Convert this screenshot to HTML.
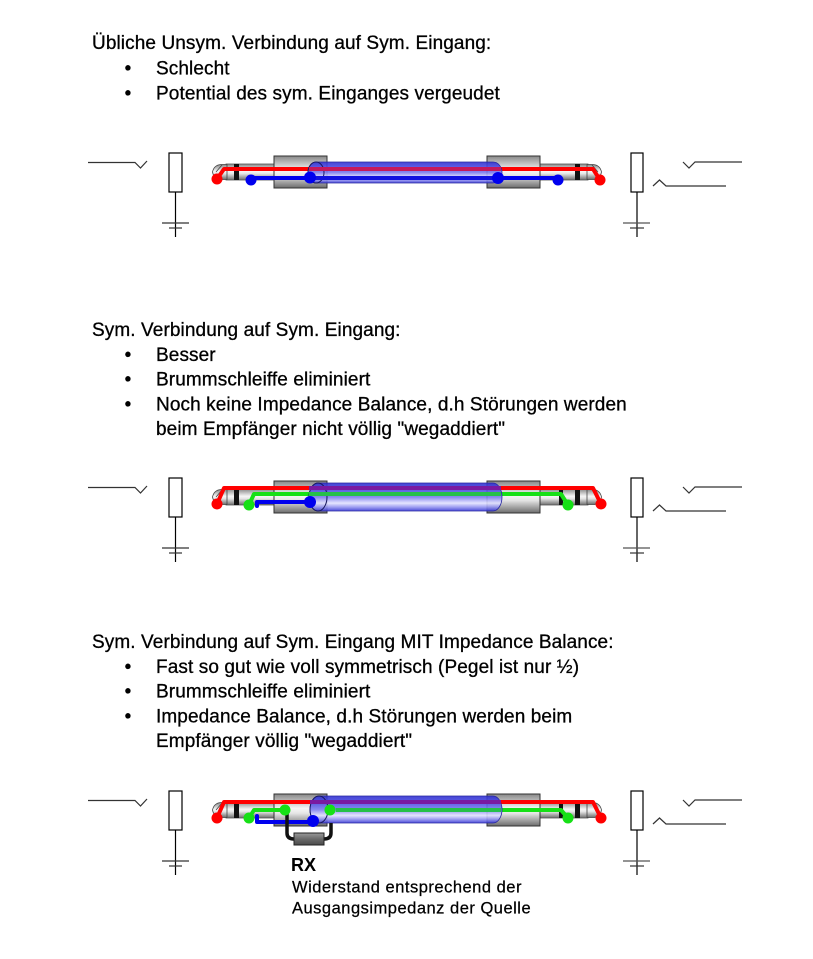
<!DOCTYPE html>
<html>
<head>
<meta charset="utf-8">
<style>
html,body{margin:0;padding:0;background:#fff;}
svg{display:block;}
</style>
</head>
<body>
<svg width="813" height="959" viewBox="0 0 813 959" xmlns="http://www.w3.org/2000/svg">
<defs>
  <linearGradient id="metal" x1="0" y1="0" x2="0" y2="1">
    <stop offset="0" stop-color="#888"/>
    <stop offset="0.45" stop-color="#f6f6f6"/>
    <stop offset="0.6" stop-color="#e6e6e6"/>
    <stop offset="1" stop-color="#6c6c6c"/>
  </linearGradient>
  <linearGradient id="cable" x1="0" y1="0" x2="0" y2="1">
    <stop offset="0" stop-color="#3030d0"/>
    <stop offset="0.2" stop-color="#4646e0"/>
    <stop offset="0.5" stop-color="#7c7cee"/>
    <stop offset="0.72" stop-color="#e2e2ff"/>
    <stop offset="0.86" stop-color="#9494f0"/>
    <stop offset="1" stop-color="#3a3ad4"/>
  </linearGradient>
  <linearGradient id="rxg" x1="0" y1="0" x2="0" y2="1">
    <stop offset="0" stop-color="#9a9a9a"/>
    <stop offset="0.5" stop-color="#6a6a6a"/>
    <stop offset="1" stop-color="#4a4a4a"/>
  </linearGradient>
  <g id="base">
    <polyline points="88,162.5 135,162.5 140.5,168 147,161" fill="none" stroke="#333" stroke-width="1.2"/>
    <rect x="169" y="153" width="13" height="39" fill="#fff" stroke="#000" stroke-width="1.2"/>
    <line x1="175.5" y1="192" x2="175.5" y2="237" stroke="#000" stroke-width="1.2"/>
    <line x1="162" y1="223" x2="189" y2="223" stroke="#333" stroke-width="1.2"/>
    <line x1="169" y1="228" x2="182" y2="228" stroke="#333" stroke-width="1.2"/>
    <rect x="631" y="153" width="12" height="39" fill="#fff" stroke="#000" stroke-width="1.2"/>
    <line x1="637" y1="192" x2="637" y2="237" stroke="#000" stroke-width="1.2"/>
    <line x1="623" y1="223" x2="650" y2="223" stroke="#555" stroke-width="1.2"/>
    <line x1="630" y1="228" x2="644" y2="228" stroke="#333" stroke-width="1.2"/>
    <polyline points="683,162 689,168 695,162 742,162" fill="none" stroke="#333" stroke-width="1.2"/>
    <polyline points="653,186 659.5,180 666,186 726,186" fill="none" stroke="#333" stroke-width="1.2"/>
    <rect x="226" y="164" width="48" height="16" fill="url(#metal)" stroke="#555" stroke-width="0.8"/>
    <path d="M227,164.5 H221 Q214,165 212.5,172 Q214,179.5 221,179.5 H227 Z" fill="url(#metal)" stroke="#444" stroke-width="0.8"/>
    <line x1="222" y1="165" x2="216" y2="172" stroke="#444" stroke-width="0.8"/>
    <rect x="234" y="164" width="5" height="16" fill="#111"/>
    <rect x="540" y="164" width="48" height="16" fill="url(#metal)" stroke="#555" stroke-width="0.8"/>
    <path d="M587,164.5 H593 Q600,165 601.5,172 Q600,179.5 593,179.5 H587 Z" fill="url(#metal)" stroke="#444" stroke-width="0.8"/>
    <line x1="592" y1="165" x2="598" y2="172" stroke="#444" stroke-width="0.8"/>
    <rect x="575" y="164" width="5" height="16" fill="#111"/>
    <rect x="274" y="156" width="53" height="32" fill="url(#metal)" stroke="#333" stroke-width="1"/>
    <rect x="487" y="156" width="53" height="32" fill="url(#metal)" stroke="#333" stroke-width="1"/>
  </g>
</defs>

<!-- ================= TEXT ================= -->
<g font-family="'Liberation Sans', Arial, sans-serif" font-size="19" fill="#000" stroke="#000" stroke-width="0.3" letter-spacing="0.1">
  <text x="92" y="49">Übliche Unsym. Verbindung auf Sym. Eingang:</text>
  <text x="128" y="74.5" text-anchor="middle">•</text>
  <text x="156" y="74.5">Schlecht</text>
  <text x="128" y="99.5" text-anchor="middle">•</text>
  <text x="156" y="99.5">Potential des sym. Einganges vergeudet</text>

  <text x="92" y="336">Sym. Verbindung auf Sym. Eingang:</text>
  <text x="128" y="361" text-anchor="middle">•</text>
  <text x="156" y="361">Besser</text>
  <text x="128" y="385.5" text-anchor="middle">•</text>
  <text x="156" y="385.5">Brummschleiffe eliminiert</text>
  <text x="128" y="410.5" text-anchor="middle">•</text>
  <text x="156" y="410.5">Noch keine Impedance Balance, d.h Störungen werden</text>
  <text x="156" y="435">beim Empfänger nicht völlig "wegaddiert"</text>

  <text x="92" y="648">Sym. Verbindung auf Sym. Eingang MIT Impedance Balance:</text>
  <text x="128" y="673" text-anchor="middle">•</text>
  <text x="156" y="673">Fast so gut wie voll symmetrisch (Pegel ist nur ½)</text>
  <text x="128" y="697.5" text-anchor="middle">•</text>
  <text x="156" y="697.5">Brummschleiffe eliminiert</text>
  <text x="128" y="722.5" text-anchor="middle">•</text>
  <text x="156" y="722.5">Impedance Balance, d.h Störungen werden beim</text>
  <text x="156" y="747">Empfänger völlig "wegaddiert"</text>
</g>

<!-- ================= DIAGRAM 1 ================= -->
<use href="#base"/>
<g fill="none" stroke-width="4" stroke-linejoin="round" stroke-linecap="round">
  <path d="M217,179 L224,169 L593,169 L600,180" stroke="#f00"/>
  <path d="M251,178 L558,178" stroke="#0000ee"/>
</g>
<path d="M316,162 H493 A9,10.5 0 0 1 493,183 H316 A8,10.5 0 0 1 316,162 Z" fill="url(#cable)" fill-opacity="0.9" stroke="#2828a0" stroke-width="0.8"/>
<ellipse cx="316" cy="172.5" rx="8" ry="10.5" fill="none" stroke="#181860" stroke-width="1"/>
<line x1="309" y1="169" x2="501" y2="169" stroke="#c4185c" stroke-width="4"/>
<line x1="309" y1="178" x2="501" y2="178" stroke="#1010e0" stroke-width="4"/>
<g>
  <circle cx="217" cy="179" r="5.5" fill="#f00"/>
  <circle cx="600" cy="180" r="5.5" fill="#f00"/>
  <circle cx="251" cy="180" r="5.5" fill="#00e"/>
  <circle cx="310" cy="177.5" r="6" fill="#00e"/>
  <circle cx="498" cy="178" r="6" fill="#00e"/>
  <circle cx="558" cy="180" r="5.5" fill="#00e"/>
</g>

<!-- ================= DIAGRAM 2 ================= -->
<g transform="translate(0,325)">
  <use href="#base"/>
  <rect x="559" y="164" width="4" height="16" fill="#111"/>
</g>
<g fill="none" stroke-width="4" stroke-linejoin="round" stroke-linecap="round">
  <path d="M217,504 L224,488 L593,488 L601,504" stroke="#f00"/>
  <path d="M249,505 L254,494 L561,494 L568,505" stroke="#16e016"/>
  <path d="M257,506 L257,502 L310,502" stroke="#0000ee"/>
</g>
<path d="M318,483 H493 A9,14 0 0 1 493,511 H318 A9,14 0 0 1 318,483 Z" fill="url(#cable)" fill-opacity="0.9" stroke="#2828a0" stroke-width="0.8"/>
<ellipse cx="318" cy="497" rx="9" ry="14" fill="none" stroke="#181860" stroke-width="1"/>
<line x1="309" y1="488" x2="501" y2="488" stroke="#7a1aa0" stroke-width="4"/>
<line x1="309" y1="494" x2="501" y2="494" stroke="#26c04a" stroke-width="4"/>
<g>
  <circle cx="217" cy="504" r="5.5" fill="#f00"/>
  <circle cx="601" cy="504" r="5.5" fill="#f00"/>
  <circle cx="249" cy="505" r="5.5" fill="#16e016"/>
  <circle cx="568" cy="505" r="5.5" fill="#16e016"/>
  <circle cx="310" cy="502" r="6" fill="#00e"/>
</g>

<!-- ================= DIAGRAM 3 ================= -->
<g transform="translate(0,638)">
  <use href="#base"/>
  <rect x="559" y="164" width="4" height="16" fill="#111"/>
</g>
<g fill="none" stroke-width="4" stroke-linejoin="round" stroke-linecap="round">
  <path d="M217,818 L224,802 L593,802 L601,818" stroke="#f00"/>
  <path d="M249,818 L254,810 L285,810" stroke="#16e016"/>
  <path d="M330,810 L561,810 L568,818" stroke="#16e016"/>
  <path d="M257,816 L257,822 L313,822" stroke="#0000ee"/>
</g>
<path d="M319,796 H493 A9,13.5 0 0 1 493,823 H319 A9,13.5 0 0 1 319,796 Z" fill="url(#cable)" fill-opacity="0.9" stroke="#2828a0" stroke-width="0.8"/>
<ellipse cx="319" cy="809.5" rx="9" ry="13.5" fill="none" stroke="#181860" stroke-width="1"/>
<line x1="310" y1="802" x2="501" y2="802" stroke="#7a1aa0" stroke-width="4"/>
<line x1="336" y1="810" x2="501" y2="810" stroke="#26c04a" stroke-width="4"/>
<path d="M287,810 L287,833 Q287,839 294,839" fill="none" stroke="#111" stroke-width="3.5"/>
<path d="M331,823 L331,833 Q331,839 324,839" fill="none" stroke="#111" stroke-width="3.5"/>
<rect x="294" y="833" width="30" height="12" fill="url(#rxg)" stroke="#222" stroke-width="1"/>
<g>
  <circle cx="217" cy="818" r="5.5" fill="#f00"/>
  <circle cx="601" cy="818" r="5.5" fill="#f00"/>
  <circle cx="249" cy="818" r="5.5" fill="#16e016"/>
  <circle cx="285" cy="810" r="5.5" fill="#16e016"/>
  <circle cx="330" cy="810" r="5.5" fill="#16e016"/>
  <circle cx="568" cy="818" r="5.5" fill="#16e016"/>
  <circle cx="313" cy="821" r="6" fill="#00e"/>
</g>

<!-- RX label -->
<g font-family="'Liberation Sans', Arial, sans-serif" fill="#000">
  <text x="291" y="871" font-size="18" font-weight="bold">RX</text>
  <text x="292" y="892.5" font-size="16.5" letter-spacing="0.5" stroke="#000" stroke-width="0.25">Widerstand entsprechend der</text>
  <text x="292" y="913.5" font-size="16.5" letter-spacing="0.5" stroke="#000" stroke-width="0.25">Ausgangsimpedanz der Quelle</text>
</g>
</svg>
</body>
</html>
